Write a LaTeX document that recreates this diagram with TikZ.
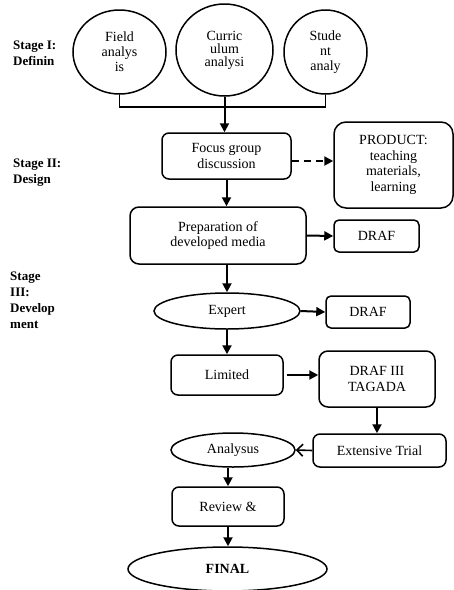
\documentclass[tikz,border=0pt]{standalone}
\usepackage{fontspec}
\setmainfont{Liberation Serif}
\usetikzlibrary{shapes.geometric,arrows.meta}
\begin{document}
\begin{tikzpicture}[x=1pt,y=-1pt,
  box/.style={draw, line width=1.5pt, rounded corners=7pt, inner sep=0pt, align=center, font=\fontsize{14}{15.5}\selectfont},
  oval/.style={draw, ellipse, line width=1.5pt, inner sep=0pt, align=center, font=\fontsize{14}{15}\selectfont},
  stagelab/.style={anchor=west, align=left, inner sep=0pt, font=\bfseries\fontsize{13}{16}\selectfont},
  arr/.style={line width=2pt, -{Triangle[length=9pt,width=9pt]}},
  openarr/.style={line width=1.6pt, -{Straight Barb[length=6pt,width=12pt]}},
]
\useasboundingbox (0,0) rectangle (454,590);

% Stage labels
\node[stagelab] (s1) at (13,53.5) {Stage I:\\Definin};
\node[stagelab] (s2) at (13,173) {Stage II:\\Design};
\node[stagelab] (s3) at (10,300) {Stage\\III:\\Develop\\ment};

% Stage I ovals
\node[oval, minimum width=93pt, minimum height=84pt] (field) at (119.5,52) {Field\\analys\\is};
\node[oval, minimum width=97pt, minimum height=92pt, font=\fontsize{14}{13}\selectfont] (cur) at (224.5,50) {Curric\\ulum\\analysi};
\node[oval, minimum width=83pt, minimum height=84pt] (stud) at (325.5,52) {Stude\\nt\\analy};

% Boxes
\node[box, minimum width=129pt, minimum height=46pt] (focus) at (226.5,156) {Focus group\\discussion};
\node[box, minimum width=119pt, minimum height=86pt, rounded corners=12pt] (prod) at (393.5,165) {PRODUCT:\\teaching\\materials,\\learning};
\node[box, minimum width=176pt, minimum height=57pt, rounded corners=9pt] (prep) at (218,235.5) {Preparation of\\developed media};
\node[box, minimum width=85pt, minimum height=32pt, rounded corners=5pt] (draf1) at (376.5,236) {DRAF};
\node[oval, minimum width=146pt, minimum height=36pt] (expert) at (227,311) {Expert};
\node[box, minimum width=84pt, minimum height=32pt, rounded corners=5pt] (draf2) at (368,312) {DRAF};
\node[box, minimum width=112pt, minimum height=40pt] (limited) at (227,375) {Limited};
\node[box, minimum width=116pt, minimum height=56pt, rounded corners=9pt] (draf3) at (377,379) {DRAF III\\TAGADA};
\node[box, minimum width=133pt, minimum height=33pt] (ext) at (379.5,450.5) {Extensive Trial};
\node[oval, minimum width=124pt, minimum height=34pt] (anal) at (233,450) {Analysus};
\node[box, minimum width=112pt, minimum height=39pt] (review) at (228,506.5) {Review \&};
\node[oval, minimum width=199pt, minimum height=44pt, font=\bfseries\fontsize{14}{15}\selectfont] (final) at (227.5,569) {FINAL};

% Connectors
\draw[line width=1.5pt] (field.south) -- ++(0,12) -| (stud.south);
\draw[arr] (cur.south) -- (cur.south |- focus.north);
\draw[arr, dash pattern=on 7pt off 5pt] ([yshift=-5pt]focus.east) -- ([yshift=-5pt]focus.east -| prod.west);
\draw[arr] (focus.south) -- (focus.south |- prep.north);
\draw[arr] (prep.east) -- (draf1.west);
\draw[arr] (expert.north |- prep.south) -- (expert.north);
\draw[arr] (expert.east) -- (draf2.west);
\draw[arr] (expert.south) -- (expert.south |- limited.north);
\draw[arr] ([xshift=3pt]limited.east) -- (limited.east -| draf3.west);
\draw[arr] (draf3.south) -- (draf3.south |- ext.north);
\draw[openarr] (ext.west) -- (anal.east);
\draw[arr] (review.north |- anal.south) -- (review.north);
\draw[arr] (review.south) -- (review.south |- final.north);
\end{tikzpicture}
\end{document}
